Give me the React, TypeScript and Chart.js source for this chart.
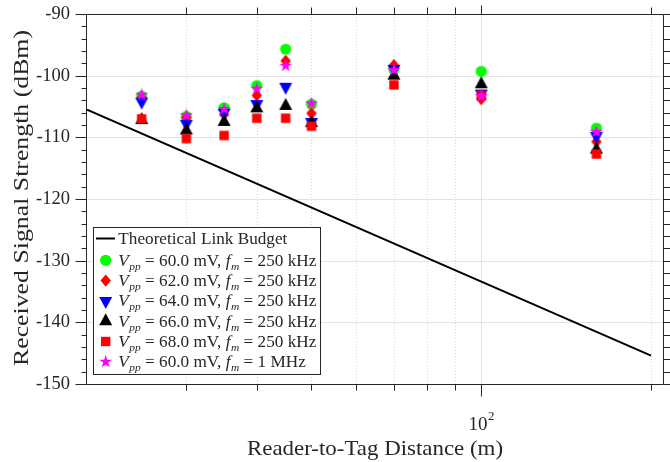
import React, { useEffect, useRef } from 'react';
import { Chart, registerables } from 'chart.js';

Chart.register(...registerables);

// ---------- data ----------
const distances = [25, 30, 35, 40, 45, 50, 70, 100, 160];
const linkBudgetDistances = [20, 200];
const linkBudgetDbm = [-105.5, -145.4];

const rss60mV250k = [-103.3, -106.6, -105.2, -101.6, -95.7, -104.6, -99.0, -99.3, -108.5];
const rss62mV250k = [-103.6, -106.8, -106.3, -103.2, -97.6, -106.1, -98.3, -103.8, -110.7];
const rss64mV250k = [-104.2, -107.8, -106.0, -104.6, -101.8, -107.5, -98.9, -102.9, -109.8];
const rss66mV250k = [-107.2, -108.9, -107.5, -105.3, -104.9, -107.7, -100.0, -101.4, -112.0];
const rss68mV250k = [-107.0, -110.2, -109.7, -106.9, -106.9, -108.2, -101.5, -103.2, -112.7];
const rss60mV1M = [-103.1, -106.4, -105.4, -102.1, -98.4, -104.5, -99.1, -103.3, -109.1];

const seriesValues = [rss60mV250k, rss62mV250k, rss64mV250k, rss66mV250k, rss68mV250k, rss60mV1M];
const seriesVpp = ['60.0', '62.0', '64.0', '66.0', '68.0', '60.0'];
const seriesFm = ['250 kHz', '250 kHz', '250 kHz', '250 kHz', '250 kHz', '1 MHz'];
const seriesColors = ['#00ff00', '#ff0000', '#0000ff', '#000000', '#ff0000', '#ff00ff'];
const seriesMarkers = ['circle', 'diamond', 'triangleDown', 'triangleUp', 'square', 'star'];

const lineLabel = 'Theoretical Link Budget';
const xTitle = 'Reader-to-Tag Distance (m)';
const yTitle = 'Received Signal Strength (dBm)';
const xMinorTicks = [30, 40, 50, 60, 70, 80, 90, 200];
const xMajorTicks = [100];
const xMajorLabelBase = ['10'];
const xMajorLabelExp = ['2'];
const xMin = 20;
const xMax = 210;
const yMin = -150;
const yMax = -90;
const yStep = 10;
const yMinorStep = 2;

// ---------- drawing helpers ----------
const SERIF = '"Liberation Serif", "Times New Roman", serif';
const AX = '#262626';

function drawMarker(ctx: CanvasRenderingContext2D, kind: string, x: number, y: number, color: string) {
  ctx.save();
  ctx.fillStyle = color;
  ctx.beginPath();
  switch (kind) {
    case 'circle':
      ctx.arc(x, y, 5.6, 0, Math.PI * 2);
      break;
    case 'diamond':
      ctx.moveTo(x, y - 6.2);
      ctx.lineTo(x + 5.2, y);
      ctx.lineTo(x, y + 6.2);
      ctx.lineTo(x - 5.2, y);
      break;
    case 'triangleUp':
      ctx.moveTo(x, y - 8);
      ctx.lineTo(x + 6.5, y + 4);
      ctx.lineTo(x - 6.5, y + 4);
      break;
    case 'triangleDown':
      ctx.moveTo(x, y + 8);
      ctx.lineTo(x + 6.5, y - 4);
      ctx.lineTo(x - 6.5, y - 4);
      break;
    case 'square':
      ctx.rect(x - 4.7, y - 4.7, 9.4, 9.4);
      break;
    case 'star': {
      const R = 6.8;
      const r = R * 0.382;
      for (let k = 0; k < 10; k++) {
        const rad = k % 2 === 0 ? R : r;
        const a = -Math.PI / 2 + (k * Math.PI) / 5;
        const px = x + rad * Math.cos(a);
        const py = y + rad * Math.sin(a);
        if (k === 0) ctx.moveTo(px, py);
        else ctx.lineTo(px, py);
      }
      break;
    }
  }
  ctx.closePath();
  ctx.fill();
  ctx.restore();
}

function makeMarkerCanvas(kind: string, color: string) {
  const c = document.createElement('canvas');
  c.width = 18;
  c.height = 18;
  const g = c.getContext('2d')!;
  drawMarker(g, kind, 9, 9, color);
  return c;
}

type Part = { t: string; italic?: boolean; sub?: boolean };

function labelParts(i: number): Part[] {
  return [
    { t: 'V', italic: true },
    { t: 'pp', italic: true, sub: true },
    { t: ' = ' + seriesVpp[i] + ' mV, ' },
    { t: 'f', italic: true },
    { t: 'm', italic: true, sub: true },
    { t: ' = ' + seriesFm[i] },
  ];
}

function partFont(p: Part) {
  if (p.sub) return 'italic 11px ' + SERIF;
  if (p.italic) return 'italic 16.5px ' + SERIF;
  return '16.5px ' + SERIF;
}

function measureParts(ctx: CanvasRenderingContext2D, parts: Part[]) {
  let w = 0;
  for (const p of parts) {
    ctx.font = partFont(p);
    w += ctx.measureText(p.t).width + (p.italic && !p.sub ? 0.5 : 0);
  }
  return w;
}

function drawParts(ctx: CanvasRenderingContext2D, parts: Part[], x: number, baseline: number, sx: number) {
  ctx.save();
  ctx.translate(x, baseline);
  ctx.scale(sx, 1);
  let cx = 0;
  for (const p of parts) {
    ctx.font = partFont(p);
    ctx.fillText(p.t, cx, p.sub ? 4 : 0);
    cx += ctx.measureText(p.t).width + (p.italic && !p.sub ? 0.5 : 0);
  }
  ctx.restore();
}

function drawStretched(ctx: CanvasRenderingContext2D, text: string, font: string, targetWidth: number) {
  ctx.font = font;
  const w = ctx.measureText(text).width;
  const sx = targetWidth / w;
  ctx.save();
  ctx.scale(sx, 1);
  ctx.textAlign = 'center';
  ctx.textBaseline = 'alphabetic';
  ctx.fillText(text, 0, 0);
  ctx.restore();
}

const framePlugin = {
  id: 'matlabFrame',
  beforeDatasetsDraw(chart: any) {
    const { ctx, chartArea: a, scales } = chart;
    const x = scales.x;
    const y = scales.y;
    ctx.save();
    ctx.lineWidth = 1;
    // horizontal grid
    ctx.strokeStyle = '#e3e3e3';
    for (let v = yMin + yStep; v < yMax; v += yStep) {
      const py = Math.round(y.getPixelForValue(v)) + 0.5;
      ctx.beginPath();
      ctx.moveTo(a.left, py);
      ctx.lineTo(a.right, py);
      ctx.stroke();
    }
    // vertical minor grid (dotted)
    ctx.strokeStyle = '#d6d6d6';
    ctx.setLineDash([1, 2]);
    for (const v of xMinorTicks) {
      const px = Math.round(x.getPixelForValue(v)) + 0.5;
      ctx.beginPath();
      ctx.moveTo(px, a.top);
      ctx.lineTo(px, a.bottom);
      ctx.stroke();
    }
    ctx.setLineDash([]);
    ctx.strokeStyle = '#e3e3e3';
    for (const v of xMajorTicks) {
      const px = Math.round(x.getPixelForValue(v)) + 0.5;
      ctx.beginPath();
      ctx.moveTo(px, a.top);
      ctx.lineTo(px, a.bottom);
      ctx.stroke();
    }
    ctx.restore();
  },
  afterDatasetsDraw(chart: any) {
    const { ctx, chartArea: a, scales } = chart;
    const x = scales.x;
    const y = scales.y;
    ctx.save();
    ctx.strokeStyle = AX;
    ctx.lineWidth = 1;
    const L = Math.round(a.left) - 0.5;
    const R = Math.round(a.right) + 0.5;
    const T = Math.round(a.top) + 0.5;
    const B = Math.round(a.bottom) + 0.5;
    ctx.beginPath();
    ctx.moveTo(L, T);
    ctx.lineTo(R, T);
    ctx.lineTo(R, B);
    ctx.lineTo(L, B);
    ctx.closePath();
    ctx.stroke();
    // y ticks (outward)
    ctx.beginPath();
    for (let v = yMin; v <= yMax + 0.001; v += yMinorStep) {
      const major = Math.abs(v % yStep) < 0.001;
      const py = Math.round(y.getPixelForValue(v)) + 0.5;
      ctx.moveTo(L, py);
      ctx.lineTo(L - (major ? 11 : 5), py);
      ctx.moveTo(R, py);
      ctx.lineTo(R + (major ? 11 : 7), py);
    }
    // x ticks (outward)
    for (const v of xMinorTicks) {
      const px = Math.round(x.getPixelForValue(v)) + 0.5;
      ctx.moveTo(px, T);
      ctx.lineTo(px, T - 7);
      ctx.moveTo(px, B);
      ctx.lineTo(px, B + 6);
    }
    for (const v of xMajorTicks) {
      const px = Math.round(x.getPixelForValue(v)) + 0.5;
      ctx.moveTo(px, T);
      ctx.lineTo(px, T - 9);
      ctx.moveTo(px, B);
      ctx.lineTo(px, B + 12);
    }
    ctx.stroke();

    // x major tick labels: 10^2
    ctx.fillStyle = AX;
    xMajorTicks.forEach((v, i) => {
      const px = x.getPixelForValue(v);
      const base = xMajorLabelBase[i];
      const exp = xMajorLabelExp[i];
      ctx.font = '19px ' + SERIF;
      const wb = ctx.measureText(base).width;
      ctx.font = '13px ' + SERIF;
      const we = ctx.measureText(exp).width;
      const start = px - (wb + we) / 2;
      ctx.textAlign = 'left';
      ctx.textBaseline = 'alphabetic';
      ctx.font = '19px ' + SERIF;
      ctx.fillText(base, start, 430);
      ctx.font = '13px ' + SERIF;
      ctx.fillText(exp, start + wb + 0.5, 420);
    });

    // axis titles
    ctx.save();
    ctx.translate((a.left + a.right) / 2, 455);
    drawStretched(ctx, xTitle, '21px ' + SERIF, 256);
    ctx.restore();
    ctx.save();
    ctx.translate(28, 198);
    ctx.rotate(-Math.PI / 2);
    drawStretched(ctx, yTitle, '22px ' + SERIF, 336);
    ctx.restore();

    // legend
    const bx = 93.5, by = 227.5, bw = 227, bh = 147;
    ctx.fillStyle = '#ffffff';
    ctx.fillRect(bx, by, bw, bh);
    ctx.strokeStyle = AX;
    ctx.strokeRect(bx, by, bw, bh);
    const measured = measureParts(ctx, labelParts(0));
    const sx = 198 / measured;
    const markerX = 105.7;
    const textX = 118.3;
    // line item
    const row0 = 238.5;
    ctx.strokeStyle = '#000000';
    ctx.lineWidth = 2;
    ctx.beginPath();
    ctx.moveTo(96, row0);
    ctx.lineTo(115, row0);
    ctx.stroke();
    ctx.fillStyle = AX;
    ctx.textAlign = 'left';
    ctx.textBaseline = 'alphabetic';
    drawParts(ctx, [{ t: lineLabel }], textX, row0 + 5.5, sx);
    for (let i = 0; i < seriesValues.length; i++) {
      const ry = 260.3 + i * 20.3;
      drawMarker(ctx, seriesMarkers[i], markerX, ry, seriesColors[i]);
      ctx.fillStyle = AX;
      drawParts(ctx, labelParts(i), textX, ry + 5.5, sx);
    }
    ctx.restore();
  },
};

export default function App() {
  const canvasRef = useRef<HTMLCanvasElement | null>(null);

  useEffect(() => {
    if (!canvasRef.current) return;
    const datasets: any[] = [
      {
        label: lineLabel,
        data: linkBudgetDistances.map((d, i) => ({ x: d, y: linkBudgetDbm[i] })),
        showLine: true,
        borderColor: '#000000',
        borderWidth: 2,
        pointRadius: 0,
        order: 10,
      },
      ...seriesValues.map((vals, i) => ({
        label: `V_pp = ${seriesVpp[i]} mV, f_m = ${seriesFm[i]}`,
        data: distances.map((d, j) => ({ x: d, y: vals[j] })),
        showLine: false,
        pointStyle: makeMarkerCanvas(seriesMarkers[i], seriesColors[i]),
        pointRadius: 7,
        backgroundColor: seriesColors[i],
        borderColor: seriesColors[i],
        borderWidth: 0,
        order: 6 - i,
      })),
    ];

    const chart = new Chart(canvasRef.current, {
      type: 'scatter',
      data: { datasets },
      plugins: [framePlugin],
      options: {
        animation: false,
        responsive: false,
        devicePixelRatio: 1,
        events: [],
        layout: { padding: { top: 14, right: 7, left: 0, bottom: 0 } },
        plugins: {
          legend: { display: false },
          tooltip: { enabled: false },
          title: { display: false },
        },
        scales: {
          x: {
            type: 'logarithmic',
            position: 'bottom',
            min: xMin,
            max: xMax,
            grid: { display: false, drawTicks: false },
            border: { display: false },
            ticks: { display: false },
            afterFit: (scale: any) => {
              scale.height = 78;
              scale.paddingLeft = 0;
              scale.paddingRight = 0;
            },
          },
          y: {
            type: 'linear',
            position: 'left',
            min: yMin,
            max: yMax,
            grid: { display: false, drawTicks: false },
            border: { display: false },
            ticks: {
              stepSize: yStep,
              padding: 17,
              color: AX,
              font: { family: SERIF, size: 18.5 },
            },
            afterFit: (scale: any) => {
              scale.width = 87;
              scale.paddingTop = 0;
              scale.paddingBottom = 0;
            },
          },
        },
      } as any,
    });
    return () => chart.destroy();
  }, []);

  return (
    <div style={{ position: 'fixed', left: 0, top: 0, width: 670, height: 462, background: '#ffffff' }}>
      <canvas ref={canvasRef} width={670} height={462} style={{ width: 670, height: 462, display: 'block' }} />
    </div>
  );
}
